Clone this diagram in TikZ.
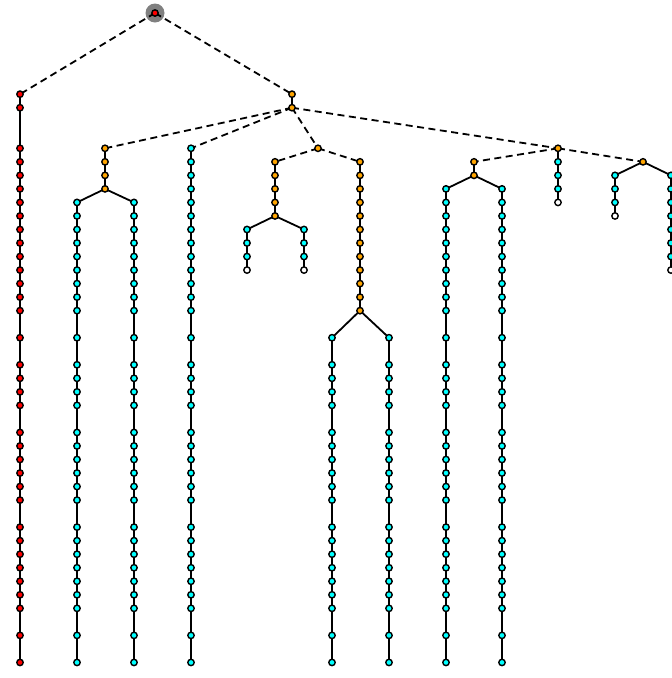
\documentclass[tikz,border=0pt]{standalone}
\usepackage{xcolor}
\usepackage{tikz}
\usetikzlibrary{backgrounds}

\definecolor{nodeorange}{RGB}{255,165,0}
\definecolor{nodecyan}{RGB}{0,255,255}
\definecolor{nodered}{RGB}{255,0,0}

\def\lowerrows{24,26,27,28,29,31,32,33,34,35,36,38,39,40,41,42,43,44,46,48}

\newcommand{\stemchain}[4]{%
    \edef\stemrows{#4}%
    \foreach \r in \stemrows {\node[#3] (#1-\r) at (#2,\r) {};}%
}
\newcommand{\stemlinks}[2]{%
    \edef\stemrows{#2}%
    \foreach \r [count=\i, remember=\r as \p] in \stemrows {
        \ifnum\i>1 \draw[link] (#1-\p.center) -- (#1-\r.center); \fi
    }%
}

\begin{document}
\begin{tikzpicture}[
        x=1pt, y=-13.53pt,
        dot/.style={circle, draw=black, line width=1.4pt, inner sep=0pt, minimum size=6.4pt},
        reddot/.style={dot, fill=nodered},
        orangedot/.style={dot, fill=nodeorange},
        cyandot/.style={dot, fill=nodecyan},
        leafdot/.style={dot, fill=white},
        link/.style={line width=1.8pt},
        jump/.style={line width=1.8pt, dash pattern=on 7pt off 4.5pt}
    ]
        \useasboundingbox (0,-0.961) rectangle (672,49.15);
        \node[reddot] (root) at (155,0) {};

        \stemchain{red}{20}{reddot}{6,7,10,11,...,22,\lowerrows}
        \stemchain{hub}{292}{orangedot}{6,7}

        \stemchain{fork}{105}{orangedot}{10,11,12,13}
        \stemchain{forkl}{77}{cyandot}{14,15,...,22,\lowerrows}
        \stemchain{forkr}{134}{cyandot}{14,15,...,22,\lowerrows}
        \stemchain{solo}{191}{cyandot}{10,11,...,22,\lowerrows}

        \node[orangedot] (mid) at (318,10) {};
        \stemchain{twig}{275}{orangedot}{11,12,...,15}
        \stemchain{twigl}{247}{cyandot}{16,17,18}
        \stemchain{twigr}{304}{cyandot}{16,17,18}
        \node[leafdot] (twigl-19) at (247,19) {};
        \node[leafdot] (twigr-19) at (304,19) {};
        \stemchain{trunk}{360}{orangedot}{11,12,...,22}
        \stemchain{trunkl}{332}{cyandot}{\lowerrows}
        \stemchain{trunkr}{389}{cyandot}{\lowerrows}

        \node[orangedot] (east-10) at (558,10) {};
        \stemchain{east}{558}{cyandot}{11,12,13}
        \node[leafdot] (east-14) at (558,14) {};
        \stemchain{pair}{474}{orangedot}{11,12}
        \stemchain{pairl}{446}{cyandot}{13,14,...,22,\lowerrows}
        \stemchain{pairr}{502}{cyandot}{13,14,...,22,\lowerrows}
        \node[orangedot] (far) at (643,11) {};
        \stemchain{farl}{615}{cyandot}{12,13,14}
        \node[leafdot] (farl-15) at (615,15) {};
        \stemchain{farr}{671}{cyandot}{12,13,...,18}
        \node[leafdot] (farr-19) at (671,19) {};

        \begin{scope}[on background layer]
            \fill[gray] (root) circle[radius=9.5pt];

            \stemlinks{red}{6,7,10,11,...,22,\lowerrows}
            \stemlinks{hub}{6,7}
            \stemlinks{fork}{10,11,12,13}
            \stemlinks{forkl}{14,15,...,22,\lowerrows}
            \stemlinks{forkr}{14,15,...,22,\lowerrows}
            \stemlinks{solo}{10,11,...,22,\lowerrows}
            \stemlinks{twig}{11,12,...,15}
            \stemlinks{twigl}{16,17,18,19}
            \stemlinks{twigr}{16,17,18,19}
            \stemlinks{trunk}{11,12,...,22}
            \stemlinks{trunkl}{\lowerrows}
            \stemlinks{trunkr}{\lowerrows}
            \stemlinks{east}{10,11,12,13,14}
            \stemlinks{pair}{11,12}
            \stemlinks{pairl}{13,14,...,22,\lowerrows}
            \stemlinks{pairr}{13,14,...,22,\lowerrows}
            \stemlinks{farl}{12,13,14,15}
            \stemlinks{farr}{12,13,...,19}

            \draw[jump] (root.center) -- (red-6.center);
            \draw[jump] (root.center) -- (hub-6.center);
            \draw[jump] (hub-7.center) -- (fork-10.center);
            \draw[jump] (hub-7.center) -- (solo-10.center);
            \draw[jump] (hub-7.center) -- (mid.center);
            \draw[jump] (hub-7.center) -- (east-10.center);
            \draw[jump] (mid.center) -- (twig-11.center);
            \draw[jump] (mid.center) -- (trunk-11.center);
            \draw[jump] (east-10.center) -- (pair-11.center);
            \draw[jump] (east-10.center) -- (far.center);

            \draw[link] (fork-13.center) -- (forkl-14.center);
            \draw[link] (fork-13.center) -- (forkr-14.center);
            \draw[link] (twig-15.center) -- (twigl-16.center);
            \draw[link] (twig-15.center) -- (twigr-16.center);
            \draw[link] (trunk-22.center) -- (trunkl-24.center);
            \draw[link] (trunk-22.center) -- (trunkr-24.center);
            \draw[link] (pair-12.center) -- (pairl-13.center);
            \draw[link] (pair-12.center) -- (pairr-13.center);
            \draw[link] (far.center) -- (farl-12.center);
            \draw[link] (far.center) -- (farr-12.center);
        \end{scope}
    \end{tikzpicture}
\end{document}
